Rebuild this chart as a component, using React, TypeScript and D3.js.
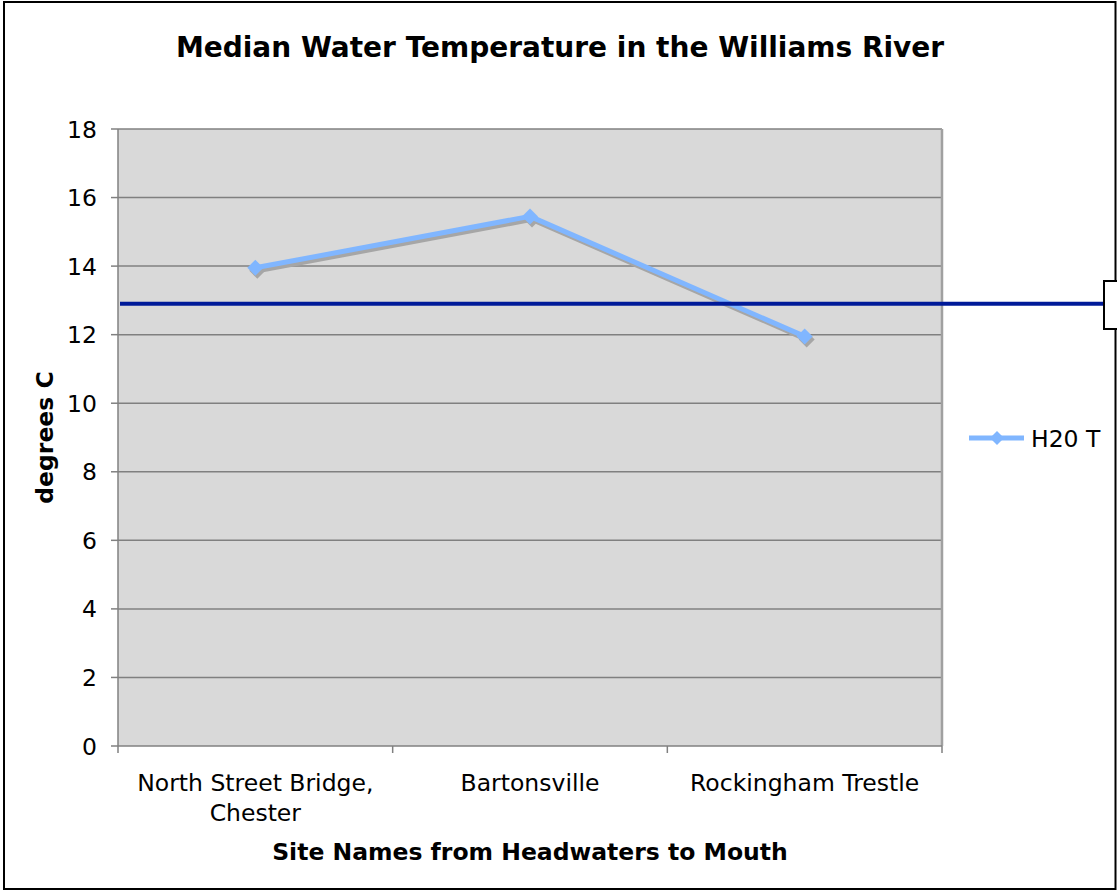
import React from "react";
import * as d3 from "d3";

const categories = [["North Street Bridge,", "Chester"], ["Bartonsville"], ["Rockingham Trestle"]];
const categoryKeys = ["North Street Bridge, Chester", "Bartonsville", "Rockingham Trestle"];
const values = [13.95, 15.45, 11.95];
const yTicks = [0, 2, 4, 6, 8, 10, 12, 14, 16, 18];
const refValue = 12.9;
const seriesName = "H20 T";
const title = "Median Water Temperature in the Williams River";
const xTitle = "Site Names from Headwaters to Mouth";
const yTitle = "degrees C";

const W = 1117, H = 892;
const PL = 118, PR = 942, PT = 129, PB = 746;
const FONT = "'DejaVu Sans', Verdana, sans-serif";
const FS = 23.5;

export default function App() {
  const x = d3.scaleBand<string>().domain(categoryKeys).range([PL, PR]).padding(0);
  const y = d3.scaleLinear().domain([0, 18]).range([PB, PT]);
  const cx = (k: string) => (x(k) as number) + x.bandwidth() / 2;
  const pts: [number, number][] = categoryKeys.map((k, i) => [cx(k), y(values[i])]);
  const line = d3.line<[number, number]>().x((d) => d[0]).y((d) => d[1]);
  const shadowPts: [number, number][] = pts.map(([a, b]) => [a + 2, b + 3]);
  const diamond = (px: number, py: number, r: number) =>
    `M${px},${py - r}L${px + r},${py}L${px},${py + r}L${px - r},${py}Z`;
  const lineColor = "#80b6ff";
  const xBoundaries = [...categoryKeys.map((k) => x(k) as number), PR];

  return (
    <div style={{ position: "absolute", left: 0, top: 0 }}>
      <svg width={W} height={H} style={{ display: "block" }}>
        <rect x={0} y={0} width={W} height={H} fill="#fff" />
        <rect x={4} y={2} width={1111.5} height={887} fill="#fff" stroke="#000" strokeWidth={2} />
        <text x={560} y={57} textAnchor="middle" fontFamily={FONT} fontWeight="bold" fontSize={28}>
          {title}
        </text>
        {/* plot area */}
        <rect x={PL} y={PT} width={PR - PL} height={PB - PT} fill="#d9d9d9" />
        {yTicks.filter((t) => t > 0).map((t) => (
          <line key={t} x1={PL} x2={PR} y1={y(t)} y2={y(t)} stroke="#808080" strokeWidth={1.5} />
        ))}
        <line x1={PR} x2={PR} y1={PT} y2={PB} stroke="#a0a0a0" strokeWidth={2.5} />
        {/* y axis */}
        <line x1={PL} x2={PL} y1={PT} y2={PB} stroke="#808080" strokeWidth={1.5} />
        {yTicks.map((t) => (
          <g key={t}>
            <line x1={PL - 7} x2={PL} y1={y(t)} y2={y(t)} stroke="#808080" strokeWidth={1.5} />
            <text x={PL - 21} y={y(t) + 8.5} textAnchor="end" fontFamily={FONT} fontSize={FS}>
              {t}
            </text>
          </g>
        ))}
        {/* x axis */}
        <line x1={PL} x2={PR} y1={PB} y2={PB} stroke="#808080" strokeWidth={1.5} />
        {xBoundaries.map((b, i) => (
          <line key={i} x1={b} x2={b} y1={PB} y2={PB + 7} stroke="#808080" strokeWidth={1.5} />
        ))}
        {categoryKeys.map((k, i) => (
          <text key={k} textAnchor="middle" fontFamily={FONT} fontSize={FS}>
            {categories[i].map((ln, j) => (
              <tspan key={j} x={cx(k)} y={791 + j * 29.5}>
                {ln}
              </tspan>
            ))}
          </text>
        ))}
        <text x={530} y={860} textAnchor="middle" fontFamily={FONT} fontWeight="bold" fontSize={FS}>
          {xTitle}
        </text>
        <text
          transform={`translate(53, ${(PT + PB) / 2}) rotate(-90)`}
          textAnchor="middle"
          fontFamily={FONT}
          fontWeight="bold"
          fontSize={FS}
        >
          {yTitle}
        </text>
        {/* series shadow */}
        <path d={line(shadowPts) as string} fill="none" stroke="#a6a6a6" strokeWidth={5} strokeLinejoin="round" />
        {shadowPts.map(([a, b], i) => (
          <path key={i} d={diamond(a, b, 8)} fill="#a6a6a6" />
        ))}
        {/* series */}
        <path d={line(pts) as string} fill="none" stroke={lineColor} strokeWidth={5} strokeLinejoin="round" />
        {pts.map(([a, b], i) => (
          <path key={i} d={diamond(a, b, 8)} fill={lineColor} />
        ))}
        {/* reference line */}
        <line x1={PL + 2} x2={1104} y1={y(refValue)} y2={y(refValue)} stroke="#001a99" strokeWidth={4} />
        <rect x={1104} y={281} width={20} height={48} fill="#fff" stroke="#000" strokeWidth={2} />
        {/* legend */}
        <line x1={969} x2={1024} y1={438} y2={438} stroke={lineColor} strokeWidth={5} />
        <path d={diamond(997, 438, 7)} fill={lineColor} />
        <text x={1031} y={447} fontFamily={FONT} fontSize={FS}>
          {seriesName}
        </text>
      </svg>
    </div>
  );
}
